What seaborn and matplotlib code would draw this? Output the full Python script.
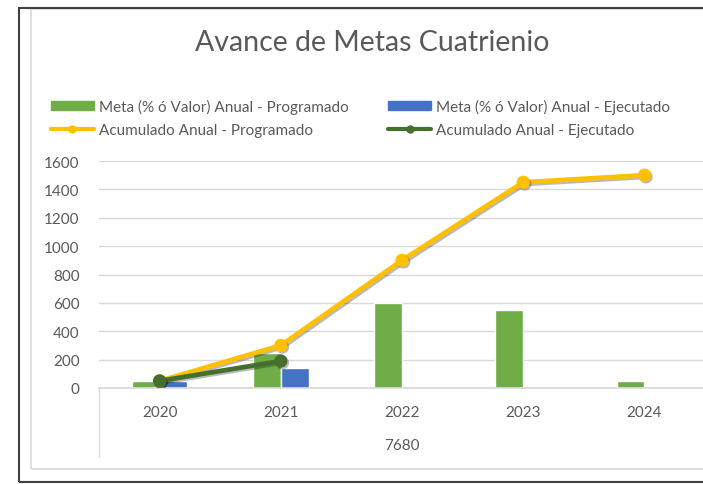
import numpy as np
import pandas as pd
import seaborn as sns
import matplotlib.pyplot as plt
import matplotlib.patheffects as pe
from matplotlib.patches import Rectangle
from matplotlib.lines import Line2D

years = ["2020", "2021", "2022", "2023", "2024"]
meta_programado = [50, 250, 600, 550, 50]
meta_ejecutado = [50, 140, np.nan, np.nan, np.nan]
acum_programado = [50, 300, 900, 1450, 1500]
acum_ejecutado = [50, 190, np.nan, np.nan, np.nan]
group_label = "7680"

lbl_mp = "Meta (% ó Valor) Anual - Programado"
lbl_me = "Meta (% ó Valor) Anual - Ejecutado"
lbl_ap = "Acumulado Anual - Programado"
lbl_ae = "Acumulado Anual - Ejecutado"

c_green = "#70AD47"
c_blue = "#4472C4"
c_yellow = "#FFC000"
c_dkgreen = "#456F2C"
c_text = "#595959"

sns.set_theme(style="white")
plt.rcParams["font.family"] = ["Lato", "DejaVu Sans"]

bars = pd.DataFrame({
    "year": years * 2,
    "value": meta_programado + meta_ejecutado,
    "serie": [lbl_mp] * len(years) + [lbl_me] * len(years),
}).dropna()

fig = plt.figure(figsize=(7.03, 4.85), dpi=100)
W, H = 703, 485
ax = fig.add_axes([99 / W, (H - 389) / H, 606 / W, 227 / H])

sns.barplot(data=bars, x="year", y="value", hue="serie", order=years,
            hue_order=[lbl_mp, lbl_me], palette=[c_green, c_blue],
            width=0.46, ax=ax, legend=False, saturation=1, zorder=2)

shadow = [pe.SimpleLineShadow(offset=(1.2, -1.2), alpha=0.3), pe.Normal()]
sns.pointplot(x=years, y=acum_programado, order=years, color=c_yellow,
              markers="o", markersize=7, linewidth=3.4, ax=ax, zorder=4)
sns.pointplot(x=years, y=acum_ejecutado, order=years, color=c_dkgreen,
              markers="o", markersize=7, linewidth=3.4, ax=ax, zorder=5)
for ln in ax.lines:
    ln.set_path_effects(shadow)

ax.set_xlim(-0.5, len(years) - 0.5)
ax.set_ylim(0, 1600)
ax.set_yticks(np.arange(0, 1601, 200))
ax.set_xticks(range(len(years)))
ax.set_xticklabels(years)
ax.yaxis.grid(True, color="#D9D9D9", lw=1)
ax.set_axisbelow(True)
for s in ["top", "right", "left"]:
    ax.spines[s].set_visible(False)
ax.spines["bottom"].set_color("#D9D9D9")
ax.tick_params(axis="y", length=0, pad=14, labelsize=11, labelcolor=c_text)
ax.tick_params(axis="x", length=0, pad=12, labelsize=11, labelcolor=c_text)
ax.set_xlabel("")
ax.set_ylabel("")

# category group bracket and label
ax.add_line(Line2D([0, 0], [0, -69 / 227], transform=ax.transAxes,
                   color="#D9D9D9", lw=1, clip_on=False))
ax.text(0.5, -57 / 227, group_label, transform=ax.transAxes, ha="center",
        va="center", fontsize=11, color=c_text)

fig.text(372 / W, 1 - 43 / H, "Avance de Metas Cuatrienio", ha="center",
         va="center", fontsize=20.5, color=c_text)

handles = [
    Rectangle((0, 0), 1, 1, color=c_green),
    Line2D([], [], color=c_yellow, lw=3, marker="o", markersize=5),
    Rectangle((0, 0), 1, 1, color=c_blue),
    Line2D([], [], color=c_dkgreen, lw=3, marker="o", markersize=5),
]
fig.legend(handles, [lbl_mp, lbl_ap, lbl_me, lbl_ae], ncol=2,
           loc="upper left", bbox_to_anchor=(37 / W, 1 - 86 / H),
           frameon=False, fontsize=11, labelcolor=c_text, handlelength=2.8,
           handleheight=0.55, handletextpad=0.35, columnspacing=2.6,
           labelspacing=0.6)

# chart borders
fig.add_artist(Rectangle((31 / W, 1 - 470 / H), 1.0, 460 / H,
                         transform=fig.transFigure, fill=False,
                         edgecolor="#D9D9D9", lw=1.2))
fig.add_artist(Rectangle((19 / W, 1 - 483 / H), 1.0, 474 / H,
                         transform=fig.transFigure, fill=False,
                         edgecolor="#404040", lw=1.5))

fig.savefig("out.png", dpi=100)
